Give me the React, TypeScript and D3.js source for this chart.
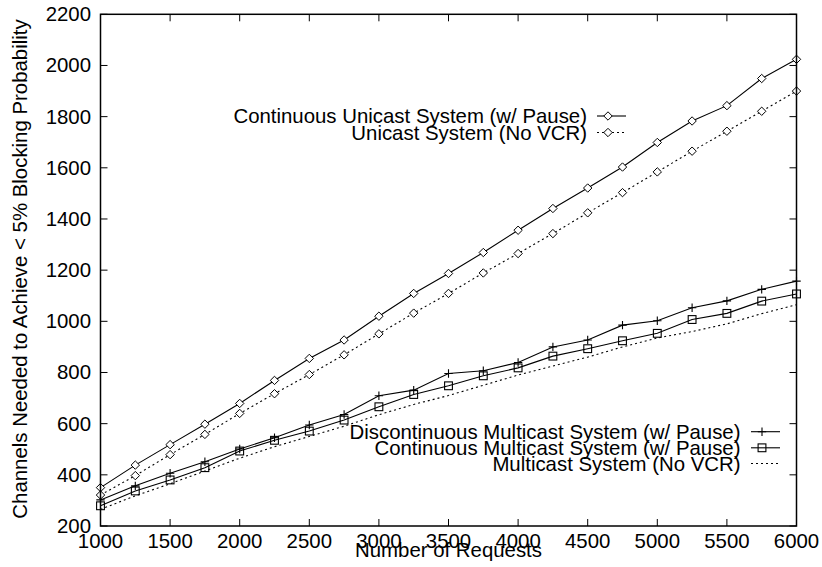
import React from "react";
import * as d3 from "d3";

const requests = [1000, 1250, 1500, 1750, 2000, 2250, 2500, 2750, 3000, 3250, 3500, 3750, 4000, 4250, 4500, 4750, 5000, 5250, 5500, 5750, 6000];
const contUnicast = [350, 438, 518, 598, 679, 769, 855, 927, 1020, 1109, 1187, 1269, 1356, 1441, 1521, 1603, 1699, 1783, 1843, 1949, 2024];
const unicastNoVcr = [321, 397, 479, 558, 640, 717, 792, 869, 951, 1032, 1109, 1189, 1265, 1343, 1424, 1503, 1584, 1665, 1743, 1821, 1900];
const discMulticast = [302, 357, 406, 451, 501, 545, 595, 636, 709, 731, 796, 807, 839, 900, 927, 985, 1002, 1053, 1080, 1125, 1157];
const contMulticast = [279, 337, 380, 428, 493, 535, 571, 614, 666, 714, 748, 787, 818, 864, 893, 924, 953, 1007, 1031, 1079, 1107];
const multicastNoVcr = [265, 318, 365, 415, 465, 510, 550, 590, 635, 675, 710, 750, 790, 825, 860, 900, 935, 960, 990, 1030, 1065];

const xTicks = [1000, 1500, 2000, 2500, 3000, 3500, 4000, 4500, 5000, 5500, 6000];
const yTicks = [200, 400, 600, 800, 1000, 1200, 1400, 1600, 1800, 2000, 2200];

const legendTop = ["Continuous Unicast System (w/ Pause)", "Unicast System (No VCR)"];
const legendBottom = ["Discontinuous Multicast System (w/ Pause)", "Continuous Multicast System (w/ Pause)", "Multicast System (No VCR)"];

const FONT = "'Liberation Sans', Arial, Helvetica, sans-serif";

type Marker = "diamond" | "square" | "plus" | "none";

function MarkerShape({ type, x, y }: { type: Marker; x: number; y: number }) {
  if (type === "diamond") {
    const r = 4.2;
    return <path d={`M${x},${y - r}L${x + r},${y}L${x},${y + r}L${x - r},${y}Z`} fill="white" stroke="black" strokeWidth={1} />;
  }
  if (type === "square") {
    const r = 3.9;
    return <rect x={x - r} y={y - r} width={2 * r} height={2 * r} fill="none" stroke="black" strokeWidth={1.1} />;
  }
  if (type === "plus") {
    const r = 4.2;
    return <path d={`M${x - r},${y}H${x + r}M${x},${y - r}V${y + r}`} stroke="black" strokeWidth={1.1} />;
  }
  return null;
}

export default function App() {
  const W = 822, H = 567;
  const left = 100.5, right = 796.5, top = 14.3, bottom = 526;
  const x = d3.scaleLinear().domain([1000, 6000]).range([left, right]);
  const y = d3.scaleLinear().domain([200, 2200]).range([bottom, top]);
  const line = d3.line<[number, number]>().x(d => x(d[0])).y(d => y(d[1]));

  const series: { vals: number[]; marker: Marker; dashed: boolean }[] = [
    { vals: contUnicast, marker: "diamond", dashed: false },
    { vals: unicastNoVcr, marker: "diamond", dashed: true },
    { vals: discMulticast, marker: "plus", dashed: false },
    { vals: contMulticast, marker: "square", dashed: false },
    { vals: multicastNoVcr, marker: "none", dashed: true },
  ];

  const tickLen = 7;
  const fs = 20.4;

  const legendRows = [
    { text: legendTop[0], s: series[0], tx: 587, ty: 116, l1: 597, l2: 626 },
    { text: legendTop[1], s: series[1], tx: 587, ty: 132.5, l1: 597, l2: 626 },
    { text: legendBottom[0], s: series[2], tx: 740.5, ty: 431.7, l1: 751, l2: 780 },
    { text: legendBottom[1], s: series[3], tx: 740.5, ty: 447.8, l1: 751, l2: 780 },
    { text: legendBottom[2], s: series[4], tx: 740.5, ty: 463.5, l1: 751, l2: 780 },
  ];

  return (
    <svg width={W} height={H} style={{ position: "absolute", left: 0, top: 0, background: "white" }} fontFamily={FONT}>
      <rect x={0} y={0} width={W} height={H} fill="white" />
      {xTicks.map(t => (
        <g key={"xt" + t}>
          <line x1={x(t)} x2={x(t)} y1={bottom} y2={bottom - tickLen} stroke="black" strokeWidth={1} />
          <line x1={x(t)} x2={x(t)} y1={top} y2={top + tickLen} stroke="black" strokeWidth={1} />
          <text x={x(t)} y={548} fontSize={fs} textAnchor="middle" fill="black">{t}</text>
        </g>
      ))}
      {yTicks.map(t => (
        <g key={"yt" + t}>
          <line x1={left} x2={left + tickLen} y1={y(t)} y2={y(t)} stroke="black" strokeWidth={1} />
          <line x1={right} x2={right - tickLen} y1={y(t)} y2={y(t)} stroke="black" strokeWidth={1} />
          <text x={91} y={y(t) + 7} fontSize={fs} textAnchor="end" fill="black">{t}</text>
        </g>
      ))}
      {series.map((s, i) => {
        const pts = requests.map((r, j) => [r, s.vals[j]] as [number, number]);
        return (
          <g key={"s" + i}>
            <path d={line(pts) || ""} fill="none" stroke="black" strokeWidth={1.1} strokeDasharray={s.dashed ? "2,3" : undefined} />
            {s.marker !== "none" && pts.map((p, j) => <MarkerShape key={j} type={s.marker} x={x(p[0])} y={y(p[1])} />)}
          </g>
        );
      })}
      <rect x={left} y={top} width={right - left} height={bottom - top} fill="none" stroke="black" strokeWidth={1.5} />
      {legendRows.map((r, i) => (
        <g key={"lg" + i}>
          <text x={r.tx} y={r.ty + 7} fontSize={fs} textAnchor="end" fill="black">{r.text}</text>
          <line x1={r.l1} x2={r.l2} y1={r.ty} y2={r.ty} stroke="black" strokeWidth={1.1} strokeDasharray={r.s.dashed ? "2,3" : undefined} />
          {r.s.marker !== "none" && <MarkerShape type={r.s.marker} x={r.l1 + 11} y={r.ty} />}
        </g>
      ))}
      <text x={(left + right) / 2} y={557} fontSize={fs} textAnchor="middle" fill="black">Number of Requests</text>
      <text transform={`translate(27,269) rotate(-90)`} fontSize={fs} textAnchor="middle" fill="black">Channels Needed to Achieve &lt; 5% Blocking Probability</text>
    </svg>
  );
}
